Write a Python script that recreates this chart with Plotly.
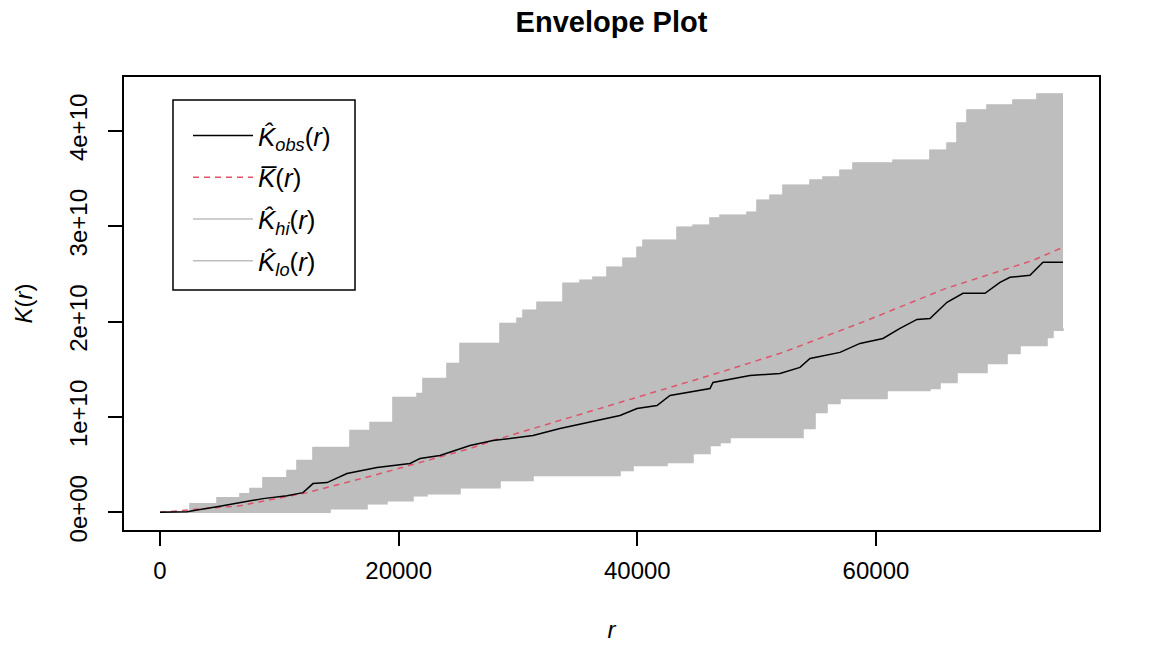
import plotly.graph_objects as go

# ---- data ----
hi_r = [0, 2514, 4777, 6704, 7542, 8631, 10643, 11481, 12821, 15922, 17598, 19525,
        21537, 22039, 24051, 25140, 28492, 29917, 30419, 31593, 33771, 35196, 36285,
        37459, 38799, 39973, 40475, 43325, 44665, 46090, 46928, 49191, 50029, 51118,
        52207, 54470, 55559, 56984, 58073, 61425, 64526, 65951, 66789, 67627, 69303,
        71481, 73492, 75671]
hi_k = [0.0, 0.091e10, 0.154e10, 0.196e10, 0.249e10, 0.364e10, 0.438e10, 0.543e10,
        0.680e10, 0.858e10, 0.942e10, 1.205e10, 1.247e10, 1.404e10, 1.562e10, 1.772e10,
        1.982e10, 2.035e10, 2.119e10, 2.203e10, 2.402e10, 2.434e10, 2.466e10, 2.571e10,
        2.665e10, 2.781e10, 2.854e10, 2.991e10, 3.012e10, 3.086e10, 3.117e10, 3.148e10,
        3.274e10, 3.327e10, 3.432e10, 3.485e10, 3.516e10, 3.589e10, 3.663e10, 3.694e10,
        3.799e10, 3.873e10, 4.083e10, 4.220e10, 4.272e10, 4.325e10, 4.388e10, 4.388e10]

lo_r = [0, 10056, 14246, 17347, 19022, 21201, 22375, 25140, 28492, 31257, 38548,
        39637, 42487, 44665, 46090, 46928, 47766, 53883, 54889, 55895, 56984, 60923,
        64526, 65364, 66789, 69303, 70979, 72068, 74331, 74833, 75671]
lo_k = [0.0, 0.0, 0.039e10, 0.091e10, 0.123e10, 0.175e10, 0.196e10, 0.259e10, 0.333e10,
        0.386e10, 0.438e10, 0.491e10, 0.522e10, 0.617e10, 0.701e10, 0.732e10, 0.785e10,
        0.879e10, 1.047e10, 1.142e10, 1.194e10, 1.279e10, 1.300e10, 1.363e10, 1.468e10,
        1.562e10, 1.667e10, 1.751e10, 1.835e10, 1.909e10, 1.930e10]

obs_r = [0, 2263, 4777, 6117, 8631, 10643, 11983, 12821, 13995, 15671, 18185, 20950,
         21788, 23464, 25978, 27905, 31257, 33520, 35783, 38548, 39973, 41649, 42738,
         46090, 46341, 49442, 51956, 53632, 54470, 56984, 58660, 60587, 62012, 63437,
         64526, 65951, 67291, 69135, 70392, 71230, 72906, 73995, 75671]
obs_k = [0.0, 0.007e10, 0.060e10, 0.091e10, 0.144e10, 0.175e10, 0.207e10, 0.302e10,
         0.312e10, 0.407e10, 0.470e10, 0.512e10, 0.564e10, 0.596e10, 0.701e10, 0.753e10,
         0.806e10, 0.879e10, 0.942e10, 1.016e10, 1.089e10, 1.121e10, 1.226e10, 1.299e10,
         1.363e10, 1.436e10, 1.457e10, 1.520e10, 1.614e10, 1.678e10, 1.772e10, 1.824e10,
         1.929e10, 2.024e10, 2.034e10, 2.203e10, 2.297e10, 2.297e10, 2.413e10, 2.465e10,
         2.486e10, 2.623e10, 2.623e10]

mean_r = [0, 6704, 12319, 17849, 25978, 27905, 36285, 46928, 52207, 59247, 65866,
          73157, 75671]
mean_k = [0.0, 0.070e10, 0.207e10, 0.386e10, 0.669e10, 0.753e10, 1.068e10, 1.468e10,
          1.678e10, 2.013e10, 2.349e10, 2.643e10, 2.780e10]

x_ticks = [0, 20000, 40000, 60000]
y_ticks = [0, 1e10, 2e10, 3e10, 4e10]
y_tick_text = ["0e+00", "1e+10", "2e+10", "3e+10", "4e+10"]

GREY = "#BEBEBE"
RED = "#DF536B"
FONT = "Liberation Sans, Arial, sans-serif"

# plot-area pixel geometry (used for paper-coordinate placement)
L, R, T, B = 124, 1099, 77, 530
W, H = R - L, B - T


def px(x):
    return (x - L) / W


def py(y):
    return (B - y) / H


fig = go.Figure()

# shaded envelope (lo then hi filled to it)
fig.add_trace(go.Scatter(x=lo_r, y=lo_k, mode="lines", line=dict(color=GREY, width=0.5, shape="hv"),
                         showlegend=False, hoverinfo="skip"))
fig.add_trace(go.Scatter(x=hi_r, y=hi_k, mode="lines", line=dict(color=GREY, width=0.5, shape="hv"),
                         fill="tonexty", fillcolor=GREY, showlegend=False, hoverinfo="skip"))

# legend entries, in legend order
fig.add_trace(go.Scatter(x=obs_r, y=obs_k, mode="lines",
                         line=dict(color="black", width=1.5),
                         name="<i>K̂</i><sub><i>obs</i></sub>(<i>r</i>)", legendrank=1, legendgroup="a"))
fig.add_trace(go.Scatter(x=mean_r, y=mean_k, mode="lines",
                         line=dict(color=RED, width=1.5, dash="6px,5px"),
                         name="<i>K̅</i>(<i>r</i>)", legendrank=2, legendgroup="b"))
fig.add_trace(go.Scatter(x=hi_r, y=hi_k, mode="lines", line=dict(color=GREY, width=1.5, shape="hv"),
                         name="<i>K̂</i><sub><i>hi</i></sub>(<i>r</i>)", legendrank=3, legendgroup="c"))
fig.add_trace(go.Scatter(x=lo_r, y=lo_k, mode="lines", line=dict(color=GREY, width=1.5, shape="hv"),
                         name="<i>K̂</i><sub><i>lo</i></sub>(<i>r</i>)", legendrank=4, legendgroup="d"))

# keep observed and mean curves drawn on top of the envelope lines
fig.data = (fig.data[0], fig.data[1], fig.data[4], fig.data[5], fig.data[3], fig.data[2])

fig.update_layout(
    width=1166, height=646,
    margin=dict(l=L, r=1166 - R, t=T, b=646 - B, autoexpand=False),
    paper_bgcolor="white", plot_bgcolor="white",
    font=dict(family=FONT, size=24, color="black"),
    title=dict(text="<b>Envelope Plot</b>", x=0.5, xref="paper", xanchor="center",
               y=1 - 22 / 646, yanchor="middle", yref="container",
               font=dict(size=29, family=FONT)),
    legend=dict(x=px(188), y=py(112), xanchor="left", yanchor="top",
                borderwidth=0, bgcolor="rgba(0,0,0,0)", traceorder="grouped",
                itemwidth=60, tracegroupgap=5,
                font=dict(size=26, family=FONT)),
    showlegend=True,
    shapes=[dict(type="rect", xref="paper", yref="paper",
                 x0=px(173), x1=px(355), y0=py(290), y1=py(100),
                 line=dict(color="black", width=1.5), fillcolor="white", layer="below")],
)

fig.update_xaxes(range=[-3017, 78690], tickvals=x_ticks, ticktext=[str(v) for v in x_ticks],
                 automargin=False,
                 showgrid=False, zeroline=False, showline=True, linecolor="black", linewidth=1.5,
                 mirror=True, ticks="outside", ticklen=14, tickwidth=1.5, tickcolor="black",
                 tickfont=dict(size=24), ticklabelstandoff=4,
                 title=dict(text="<i>r</i>", font=dict(size=24), standoff=39))
fig.update_yaxes(range=[-0.185e10, 4.566e10], tickvals=y_ticks, ticktext=y_tick_text,
                 automargin=False, tickangle=-90,
                 showgrid=False, zeroline=False, showline=True, linecolor="black", linewidth=1.5,
                 mirror=True, ticks="outside", ticklen=14, tickwidth=1.5, tickcolor="black",
                 tickfont=dict(size=24), ticklabelstandoff=12,
                 title=dict(text="<i>K</i>(<i>r</i>)", font=dict(size=24), standoff=25))

fig.write_html("out.html")
